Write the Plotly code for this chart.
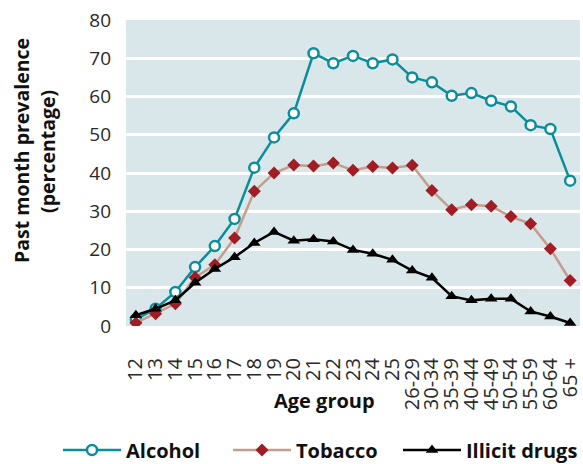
import plotly.graph_objects as go

age_groups = ["12", "13", "14", "15", "16", "17", "18", "19", "20", "21", "22", "23", "24", "25",
              "26-29", "30-34", "35-39", "40-44", "45-49", "50-54", "55-59", "60-64", "65 +"]
alcohol = [1.7, 4.5, 8.9, 15.4, 20.9, 28.0, 41.4, 49.3, 55.6, 71.3, 68.7, 70.6, 68.7, 69.7,
           65.0, 63.7, 60.2, 60.9, 58.9, 57.4, 52.5, 51.5, 38.0]
tobacco = [0.8, 3.2, 5.8, 12.7, 16.0, 23.0, 35.2, 40.0, 42.1, 41.8, 42.6, 40.7, 41.7, 41.3,
           42.0, 35.4, 30.4, 31.7, 31.3, 28.6, 26.7, 20.2, 11.9]
illicit = [2.8, 4.5, 6.7, 11.3, 14.9, 18.0, 21.7, 24.6, 22.3, 22.7, 22.1, 19.9, 18.9, 17.3,
           14.5, 12.6, 7.8, 6.7, 7.1, 7.1, 3.8, 2.5, 0.8]
y_ticks = [0, 10, 20, 30, 40, 50, 60, 70, 80]

teal = "#0b8e9b"
fig = go.Figure()
fig.add_trace(go.Scatter(
    x=age_groups, y=alcohol, name="Alcohol", mode="lines+markers", legendwidth=97,
    line=dict(color=teal, width=2.5),
    marker=dict(symbol="circle", size=10, color="white", line=dict(color=teal, width=2.5)),
))
fig.add_trace(go.Scatter(
    x=age_groups, y=tobacco, name="Tobacco", mode="lines+markers", legendwidth=97,
    line=dict(color="#c69c8c", width=2.5),
    marker=dict(symbol="diamond", size=10, color="#a01d25", line=dict(width=0)),
))
fig.add_trace(go.Scatter(
    x=age_groups, y=illicit, name="Illicit drugs", mode="lines+markers", legendwidth=125,
    line=dict(color="#000000", width=2.5),
    marker=dict(symbol="triangle-up", size=11, color="#000000", line=dict(width=0)),
))

font_fam = "Open Sans, Noto Sans, sans-serif"
fig.update_layout(
    width=583, height=464,
    margin=dict(l=126, r=3, t=20, b=138, autoexpand=False),
    paper_bgcolor="white",
    plot_bgcolor="#d9e7ea",
    font=dict(family=font_fam, color="#2a2a2a", size=17),
    xaxis=dict(
        type="category", range=[-0.5, 22.5], tickangle=-90,
        tickmode="array", tickvals=age_groups, ticktext=age_groups,
        showgrid=False, zeroline=False, showline=False,
        ticks="outside", ticklen=23, tickcolor="rgba(0,0,0,0)",
        tickfont=dict(size=20, color="#2a2a2a"),
    ),
    yaxis=dict(
        range=[0, 80], tickvals=y_ticks, showgrid=True, gridcolor="white", gridwidth=3,
        zeroline=False, showline=False, ticks="",
        tickfont=dict(size=19, color="#2a2a2a"), ticklabelstandoff=14,
    ),
    showlegend=True,
    legend=dict(
        orientation="h", xref="paper", yref="paper",
        x=(58 - 126) / 454, y=(326 - 450) / 306, xanchor="left", yanchor="middle",
        font=dict(size=20, color="#111111", family=font_fam, weight="bold"),
        itemwidth=58, entrywidthmode="pixels", tracegroupgap=0,
    ),
    annotations=[
        dict(text="<b>Past month prevalence</b>", xref="paper", yref="paper",
             x=-0.229, y=0.572, textangle=-90, showarrow=False,
             font=dict(size=19.5, color="#111111"), xanchor="center", yanchor="middle"),
        dict(text="<b>(percentage)</b>", xref="paper", yref="paper",
             x=-0.172, y=0.572, textangle=-90, showarrow=False,
             font=dict(size=19.5, color="#111111"), xanchor="center", yanchor="middle"),
        dict(text="<b>Age group</b>", xref="paper", yref="paper",
             x=(324 - 126) / 454, y=-0.242, showarrow=False,
             font=dict(size=20, color="#111111"), xanchor="center", yanchor="middle"),
    ],
)

fig.write_html("out.html", config={"displayModeBar": False},
               post_script="document.body.style.margin='0';document.body.style.overflow='hidden';")
